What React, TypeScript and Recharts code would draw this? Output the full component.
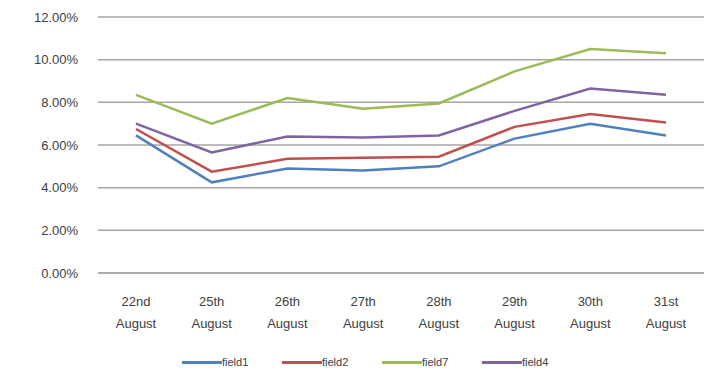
import React from 'react';
import { LineChart, Line, XAxis, YAxis, CartesianGrid, Legend } from 'recharts';

const days = ['22nd', '25th', '26th', '27th', '28th', '29th', '30th', '31st'];
const field1 = [6.45, 4.25, 4.9, 4.8, 5.0, 6.3, 7.0, 6.45];
const field2 = [6.75, 4.75, 5.35, 5.4, 5.45, 6.85, 7.45, 7.05];
const field7 = [8.35, 7.0, 8.2, 7.7, 7.95, 9.45, 10.5, 10.3];
const field4 = [7.0, 5.65, 6.4, 6.35, 6.45, 7.6, 8.65, 8.35];
const yTicks = [0, 2, 4, 6, 8, 10, 12];

const seriesList = [
  { key: 'field1', color: '#4F81BD' },
  { key: 'field2', color: '#C0504D' },
  { key: 'field7', color: '#9BBB59' },
  { key: 'field4', color: '#8064A2' },
];

const data = days.map((d, i) => ({
  day: d,
  field1: field1[i],
  field2: field2[i],
  field7: field7[i],
  field4: field4[i],
}));

const font = '"Liberation Sans", Arial, sans-serif';

const DayTick = (props: any) => {
  const { x, y, payload } = props;
  return (
    <text x={x} y={y} textAnchor="middle" fill="#404040" fontSize={13} fontFamily={font}>
      <tspan x={x} dy={25}>{payload.value}</tspan>
      <tspan x={x} dy={22}>August</tspan>
    </text>
  );
};

// legend drawn by hand so the item spacing matches the original
const LegendBox = () => (
  <div style={{ display: 'flex', paddingLeft: 182, fontFamily: font, fontSize: 11, color: '#404040' }}>
    {seriesList.map((s) => (
      <div key={s.key} style={{ display: 'flex', alignItems: 'center', width: 100 }}>
        <span style={{ display: 'inline-block', width: 40, height: 3, background: s.color }} />
        <span>{s.key}</span>
      </div>
    ))}
  </div>
);

export default function App() {
  return (
    <div style={{ position: 'absolute', left: 0, top: 0, width: 714, height: 374, background: '#fff' }}>
      <LineChart width={714} height={374} data={data} margin={{ top: 17, right: 10, bottom: 0, left: 0 }}>
        <CartesianGrid vertical={false} stroke="#a6a6a6" strokeWidth={1.5} />
        <XAxis
          dataKey="day"
          height={89}
          tickLine={false}
          axisLine={{ stroke: '#a6a6a6', strokeWidth: 1.5 }}
          tick={<DayTick />}
          interval={0}
          padding={{ left: 38, right: 38 }}
        />
        <YAxis
          width={98}
          domain={[0, 12]}
          ticks={yTicks}
          tickLine={false}
          axisLine={false}
          tickSize={0}
          tickMargin={20}
          tickFormatter={(v: number) => v.toFixed(2) + '%'}
          tick={{ fill: '#404040', fontSize: 13, fontFamily: font }}
        />
        <Legend content={<LegendBox />} wrapperStyle={{ top: 356, left: 0, width: 714 }} />
        {seriesList.map((s) => (
          <Line
            key={s.key}
            type="linear"
            dataKey={s.key}
            stroke={s.color}
            strokeWidth={2.5}
            dot={false}
            isAnimationActive={false}
          />
        ))}
      </LineChart>
    </div>
  );
}
